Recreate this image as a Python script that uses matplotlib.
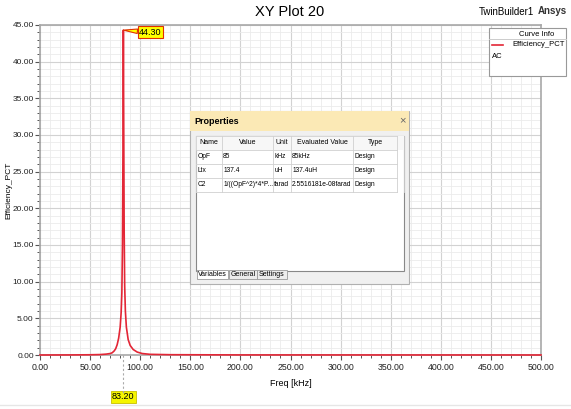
import matplotlib
matplotlib.use("Agg")
import matplotlib.pyplot as plt
from matplotlib.ticker import MultipleLocator, FormatStrFormatter
from matplotlib.patches import Rectangle

plt.rcParams['font.family'] = ['Liberation Sans', 'DejaVu Sans']

# ---- data ----
freq = [0, 30, 50, 60, 66, 70, 72, 74, 75.5, 77, 78.5, 80, 81, 81.7, 82.3, 82.8,
        83.2, 83.6, 84.0, 84.5, 85.2, 86.2, 88, 90, 93, 97, 102, 110, 130, 200, 500]
eff = [0, 0.01, 0.03, 0.06, 0.12, 0.2, 0.3, 0.55, 0.85, 1.4, 2.3, 3.8, 5.8, 8.5, 15, 28,
       44.3, 30, 17, 9.5, 6, 3.8, 2.1, 1.3, 0.75, 0.4, 0.2, 0.09, 0.04, 0.01, 0]
peak_x = 83.20
peak_y = 44.30

prop_headers = ["Name", "Value", "Unit", "Evaluated Value", "Type"]
prop_names = ["OpF", "Ltx", "C2"]
prop_values = ["85", "137.4", "1/((OpF^2)*4*P..."]
prop_units = ["kHz", "uH", "farad"]
prop_evals = ["85kHz", "137.4uH", "2.5516181e-08farad"]
prop_types = ["Design", "Design", "Design"]
tabs = ["Variables", "General", "Settings"]

W, H = 571, 409
fig = plt.figure(figsize=(W / 100, H / 100), dpi=100)
fig.patch.set_facecolor('white')

def px(x0, y0, x1, y1):
    return [x0 / W, 1 - y1 / H, (x1 - x0) / W, (y1 - y0) / H]

ax = fig.add_axes(px(40, 25, 541, 355))
ax.plot(freq, eff, color='#e32636', lw=1.2, zorder=5, clip_on=False)
ax.set_xlim(0, 500)
ax.set_ylim(0, 45)
ax.xaxis.set_major_locator(MultipleLocator(50))
ax.xaxis.set_minor_locator(MultipleLocator(10))
ax.yaxis.set_major_locator(MultipleLocator(5))
ax.yaxis.set_minor_locator(MultipleLocator(1))
ax.xaxis.set_major_formatter(FormatStrFormatter('%.2f'))
ax.yaxis.set_major_formatter(FormatStrFormatter('%.2f'))
ax.grid(which='major', color='#d2d2d2', lw=0.8)
ax.grid(which='minor', color='#ebebeb', lw=0.6)
ax.set_axisbelow(True)
ax.tick_params(which='both', direction='out', colors='#555555', labelcolor='#222222',
               labelsize=6.3)
ax.tick_params(axis='y', labelsize=6)
ax.tick_params(which='major', length=3.5, width=0.8, pad=1)
ax.tick_params(which='minor', length=2.5, width=0.7)
ax.tick_params(axis='x', which='major', pad=2)
for s in ax.spines.values():
    s.set_color('#a8a8a8')
    s.set_linewidth(1.2)
ax.set_xlabel('Freq [kHz]', fontsize=6.5, labelpad=5)
ax.set_ylabel('Efficiency_PCT', fontsize=6)
ax.yaxis.set_label_coords(-0.056, 0.5)

# marker line and labels
ax.plot([peak_x, peak_x], [0, -5.3], color='#aaaaaa', lw=0.8, ls=(0, (2, 2)),
        clip_on=False, zorder=4)
ax.annotate(f'{peak_x:.2f}', xy=(peak_x, 0), xytext=(peak_x, -5.7),
            textcoords='data', ha='center', va='center', fontsize=6.5,
            bbox=dict(boxstyle='square,pad=0.15', fc='#f5f500', ec='#c8c000', lw=0.6),
            annotation_clip=False)
ax.annotate(f'{peak_y:.2f}', xy=(peak_x, peak_y), xytext=(peak_x + 27, peak_y - 0.3),
            ha='center', va='center', fontsize=6.5, annotation_clip=False,
            bbox=dict(boxstyle='square,pad=0.15', fc='#ffff00', ec='#e03000', lw=0.8),
            arrowprops=dict(arrowstyle='wedge,tail_width=0.5,shrink_factor=0.5',
                            fc='#ffff00', ec='#e03000', lw=0.8, shrinkA=0, shrinkB=0),
            zorder=10)

# overlay in pixel coordinates
ov = fig.add_axes([0, 0, 1, 1])
ov.set_xlim(0, W)
ov.set_ylim(H, 0)
ov.axis('off')
ov.patch.set_alpha(0)

ov.text(290, 12, 'XY Plot 20', ha='center', va='center', fontsize=10.5)
ov.text(506, 12, 'TwinBuilder1', ha='center', va='center', fontsize=7)
ov.text(552, 11, 'Ansys', ha='center', va='center', fontsize=7, fontweight='bold', color='#333333')

# legend box
ov.add_patch(Rectangle((489, 28), 77, 48, fc='white', ec='#999999', lw=0.8, zorder=3))
ov.text(537, 34, 'Curve Info', ha='center', va='center', fontsize=5.5, zorder=4)
ov.plot([489, 566], [39, 39], color='#cccccc', lw=0.7, zorder=4)
ov.plot([492, 503], [45, 45], color='#e32636', lw=1.2, zorder=4)
ov.text(512, 45, 'Efficiency_PCT', ha='left', va='center', fontsize=5.5, zorder=4)
ov.text(492, 56, 'AC', ha='left', va='center', fontsize=5.5, zorder=4)

# properties panel
ov.add_patch(Rectangle((190, 111), 219, 173, fc='#f0f0f0', ec='#b0b0b0', lw=0.8, zorder=3))
ov.add_patch(Rectangle((190, 111), 219, 20, fc='#fbe9b5', ec='none', zorder=3))
ov.text(194, 121, 'Properties', ha='left', va='center', fontsize=6.5, fontweight='bold', zorder=4)
ov.text(402, 120, '×', ha='center', va='center', fontsize=8, color='#666666', zorder=4)
ov.add_patch(Rectangle((196, 136), 208, 135, fc='white', ec='#888888', lw=0.8, zorder=4))
cols = [196, 222, 273, 291, 353, 397]
hy0, rh = 136, 14
ov.add_patch(Rectangle((196, hy0), 208, rh, fc='#f7f7f7', ec='none', zorder=4))
for i, h in enumerate(prop_headers):
    ov.text((cols[i] + cols[i + 1]) / 2, hy0 + rh / 2, h, ha='center', va='center',
            fontsize=5, zorder=5)
rows = list(zip(prop_names, prop_values, prop_units, prop_evals, prop_types))
for r, row in enumerate(rows):
    yc = hy0 + rh * (r + 1) + rh / 2
    for i, v in enumerate(row):
        ov.text(cols[i] + 1.2, yc, v, ha='left', va='center', fontsize=4.8, zorder=5)
ytop, ybot = hy0, hy0 + rh * (len(rows) + 1)
for c in cols + [404]:
    ov.plot([c, c], [ytop, ybot], color='#d0d0d0', lw=0.6, zorder=5)
for k in range(len(rows) + 2):
    ov.plot([196, 397], [hy0 + rh * k, hy0 + rh * k], color='#d0d0d0', lw=0.6, zorder=5)
# tabs
tx = [197, 229, 257]
tw = [31, 28, 30]
for t, x0, w in zip(tabs, tx, tw):
    ov.add_patch(Rectangle((x0, 270), w, 9, fc='white' if t == 'Variables' else '#ececec',
                           ec='#999999', lw=0.6, zorder=5))
    ov.text(x0 + w / 2, 274.5, t, ha='center', va='center', fontsize=5, zorder=6)

# bottom faint border
ov.plot([0, W], [405, 405], color='#e6e6e6', lw=1)

fig.savefig('out.png', dpi=100)
